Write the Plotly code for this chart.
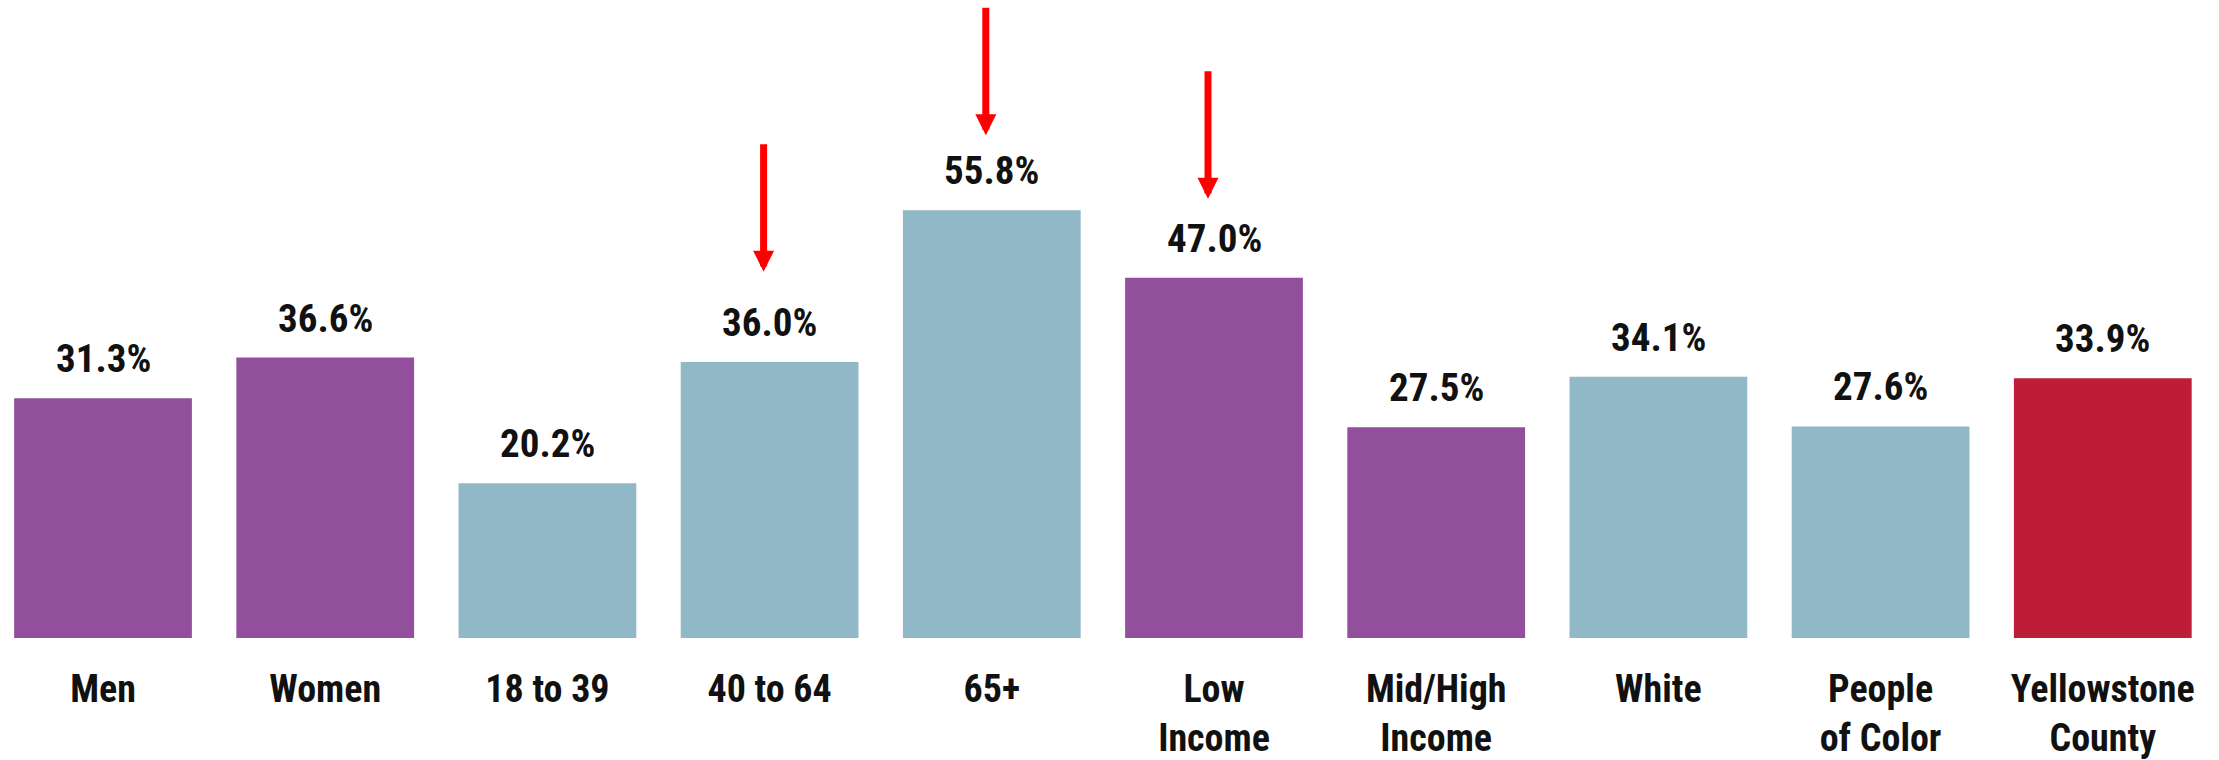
import plotly.graph_objects as go

categories = ["Men", "Women", "18 to 39", "40 to 64", "65+", "Low<br>Income",
              "Mid/High<br>Income", "White", "People<br>of Color", "Yellowstone<br>County"]
values = [31.3, 36.6, 20.2, 36.0, 55.8, 47.0, 27.5, 34.1, 27.6, 33.9]
bar_colors = ["#92509C", "#92509C", "#90B8C6", "#90B8C6", "#90B8C6",
              "#92509C", "#92509C", "#90B8C6", "#90B8C6", "#BE1D38"]
value_labels = [f"{v:.1f}%" for v in values]

arrow_categories = ["40 to 64", "65+", "Low<br>Income"]
arrow_tips = [47.8, 65.6, 57.3]

FONT = "Roboto Condensed, Liberation Sans Narrow, Arial Narrow, sans-serif"

fig = go.Figure()
fig.add_trace(go.Bar(
    x=categories, y=values, marker=dict(color=bar_colors, line=dict(width=0)),
    hoverinfo="skip",
))

for c, v, t in zip(categories, values, value_labels):
    fig.add_annotation(x=c, y=v, text=f"<b>{t}</b>", showarrow=False,
                       yanchor="middle", yshift=39,
                       font=dict(family=FONT, size=39, color="#111111"))

for c, tip in zip(arrow_categories, arrow_tips):
    fig.add_annotation(x=c, y=tip, ax=0, ay=-129, axref="pixel", ayref="pixel",
                       text="", showarrow=True, arrowhead=2, arrowsize=0.6,
                       arrowwidth=7, arrowcolor="#FF0000", xshift=-6,
                       standoff=0, startstandoff=0)

fig.update_layout(
    width=2219, height=760,
    margin=dict(l=0, r=0, t=0, b=119),
    paper_bgcolor="white", plot_bgcolor="white",
    bargap=0.2, showlegend=False,
    xaxis=dict(range=[-0.4636, 9.523], showgrid=False, zeroline=False, showline=False,
               ticks="outside", ticklen=17, tickcolor="white",
               tickfont=dict(family=FONT, size=38, color="#111111"),
               ticktext=[f"<b>{c}</b>" for c in categories], tickvals=categories,
               fixedrange=True),
    yaxis=dict(range=[0, 83.25], visible=False, fixedrange=True),
)

fig.write_html("out.html", config={"displayModeBar": False},
               post_script="document.body.style.margin='0';document.body.style.overflow='hidden';")
